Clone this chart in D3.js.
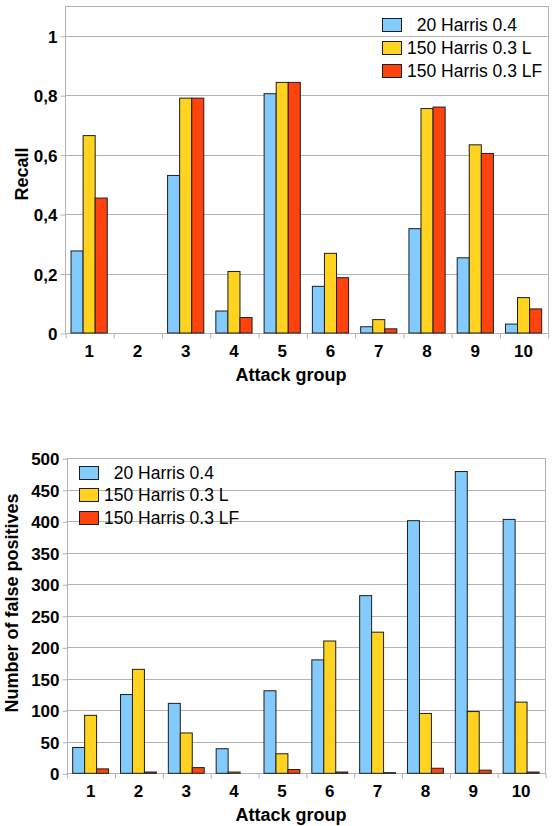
<!DOCTYPE html>
<html>
<head>
<meta charset="utf-8">
<script src="https://cdn.jsdelivr.net/npm/d3@7"></script>
<style>
  html, body { margin: 0; padding: 0; background: #fff; }
  svg { display: block; font-family: "Liberation Sans", Arial, sans-serif; }
  .legend text { white-space: pre; }
</style>
</head>
<body>
<svg id="chart" width="553" height="826"></svg>
<script>
// ---------- data ----------
const categories = ["1", "2", "3", "4", "5", "6", "7", "8", "9", "10"];
const seriesNames = ["  20 Harris 0.4", "150 Harris 0.3 L", "150 Harris 0.3 LF"];
const seriesColors = ["#83CAFF", "#FFD320", "#FF420E"];

const recall20 = [0.276, 0, 0.530, 0.074, 0.805, 0.157, 0.021, 0.351, 0.253, 0.030];
const recall150L = [0.664, 0, 0.790, 0.207, 0.843, 0.268, 0.045, 0.755, 0.633, 0.119];
const recall150LF = [0.454, 0, 0.790, 0.052, 0.843, 0.186, 0.014, 0.760, 0.604, 0.081];

const fp20 = [41, 125, 111, 39, 131, 180, 282, 401, 479, 403];
const fp150L = [92, 165, 64, 2, 31, 210, 224, 95, 98, 113];
const fp150LF = [7, 2, 9, 0, 6, 2, 1, 8, 5, 2];

const recallTicks = [0, 0.2, 0.4, 0.6, 0.8, 1];
const recallTickLabels = ["0", "0,2", "0,4", "0,6", "0,8", "1"];
const fpTicks = [0, 50, 100, 150, 200, 250, 300, 350, 400, 450, 500];
const fpTickLabels = ["0", "50", "100", "150", "200", "250", "300", "350", "400", "450", "500"];

const xTitle = "Attack group";
const recallTitle = "Recall";
const fpTitle = "Number of false positives";

// ---------- drawing ----------
const svg = d3.select("#chart");
const GRID = "#b3b3b3";

function drawChart(cfg) {
  const g = svg.append("g");
  const {left, right, top, bottom} = cfg;
  const x0 = d3.scaleBand().domain(categories).range([left, right]).padding(0);
  const x1 = d3.scaleBand().domain(d3.range(seriesNames.length))
    .range([0, x0.bandwidth()]).paddingInner(0).paddingOuter(0.5);
  const y = d3.scaleLinear().domain(cfg.domain).range([bottom, top]);
  const xb = d3.scaleLinear().domain([0, categories.length]).range([left, right]);

  // gridlines
  g.append("g").selectAll("line").data(cfg.ticks).join("line")
    .attr("x1", left).attr("x2", right)
    .attr("y1", d => Math.round(y(d)) + 0.5).attr("y2", d => Math.round(y(d)) + 0.5)
    .attr("stroke", GRID).attr("stroke-width", 1);

  // plot frame
  g.append("rect")
    .attr("x", Math.round(left) + 0.5).attr("y", Math.round(top) + 0.5)
    .attr("width", Math.round(right) - Math.round(left))
    .attr("height", Math.round(bottom) - Math.round(top))
    .attr("fill", "none").attr("stroke", GRID);

  // y ticks marks + labels
  const yAxis = d3.axisLeft(y).tickValues(cfg.ticks)
    .tickFormat((d, i) => cfg.tickLabels[i]).tickSize(5).tickPadding(3);
  const ya = g.append("g").attr("transform", `translate(${Math.round(left) + 0.5},0.5)`).call(yAxis);
  ya.select(".domain").remove();
  ya.selectAll(".tick line").attr("stroke", GRID);
  ya.selectAll(".tick text").attr("fill", "#000")
    .style("font-family", "'Liberation Sans', Arial, sans-serif")
    .style("font-size", "17px").style("font-weight", "bold").attr("dy", "0.36em");

  // x boundary ticks
  const xAxisB = d3.axisBottom(xb).tickValues(d3.range(categories.length + 1))
    .tickFormat("").tickSize(5);
  const xa = g.append("g").attr("transform", `translate(0.5,${Math.round(bottom) + 0.5})`).call(xAxisB);
  xa.select(".domain").remove();
  xa.selectAll(".tick line").attr("stroke", GRID);

  // x category labels
  const xAxisL = d3.axisBottom(x0).tickSize(0).tickPadding(0);
  const xl = g.append("g").attr("transform", `translate(0,${bottom})`).call(xAxisL);
  xl.select(".domain").remove();
  xl.selectAll(".tick text").attr("fill", "#000").attr("y", 23.5).attr("dy", 0)
    .style("font-family", "'Liberation Sans', Arial, sans-serif")
    .style("font-size", "17px").style("font-weight", "bold");

  // bars
  const groups = g.append("g").selectAll("g").data(categories).join("g")
    .attr("transform", d => `translate(${x0(d)},0)`);
  groups.selectAll("rect")
    .data((d, i) => cfg.series.map((s, k) => ({k, v: s[i]})).filter(e => e.v > 0))
    .join("rect")
    .attr("x", e => x1(e.k))
    .attr("width", x1.bandwidth())
    .attr("y", e => y(e.v))
    .attr("height", e => y(0) - y(e.v))
    .attr("fill", e => seriesColors[e.k])
    .attr("stroke", "#1e1e1e").attr("stroke-width", 1);

  // axis titles
  g.append("text").attr("x", cfg.xTitleX).attr("y", cfg.xTitleY)
    .attr("text-anchor", "middle").style("font-size", "18px").style("font-weight", "bold")
    .text(xTitle);
  g.append("text")
    .attr("transform", `translate(${cfg.yTitleX},${cfg.yTitleY}) rotate(-90)`)
    .attr("text-anchor", "middle").style("font-size", "18px").style("font-weight", "bold")
    .text(cfg.yTitle);

  // legend
  const lg = g.append("g").attr("class", "legend");
  seriesNames.forEach((name, k) => {
    const cy = cfg.legendY + k * cfg.legendStep;
    lg.append("rect").attr("x", cfg.legendX + 0.5).attr("y", Math.round(cy - 6.5) + 0.5)
      .attr("width", 19).attr("height", 13)
      .attr("fill", seriesColors[k]).attr("stroke", "#1e1e1e");
    lg.append("text").attr("x", cfg.legendX + 25).attr("y", cy + 6.5)
      .style("font-size", "17.5px").style("white-space", "pre").text(name);
  });
}

drawChart({
  left: 65, right: 547.7, top: 6, bottom: 333,
  domain: [0, 1.1], ticks: recallTicks, tickLabels: recallTickLabels,
  series: [recall20, recall150L, recall150LF],
  xTitleX: 291, xTitleY: 381, yTitle: recallTitle, yTitleX: 28, yTitleY: 174,
  legendX: 382, legendY: 24, legendStep: 23.4
});

drawChart({
  left: 66.7, right: 545, top: 458.3, bottom: 773.3,
  domain: [0, 500], ticks: fpTicks, tickLabels: fpTickLabels,
  series: [fp20, fp150L, fp150LF],
  xTitleX: 291, xTitleY: 821, yTitle: fpTitle, yTitleX: 18, yTitleY: 603,
  legendX: 79, legendY: 472, legendStep: 22.8
});
</script>
</body>
</html>
